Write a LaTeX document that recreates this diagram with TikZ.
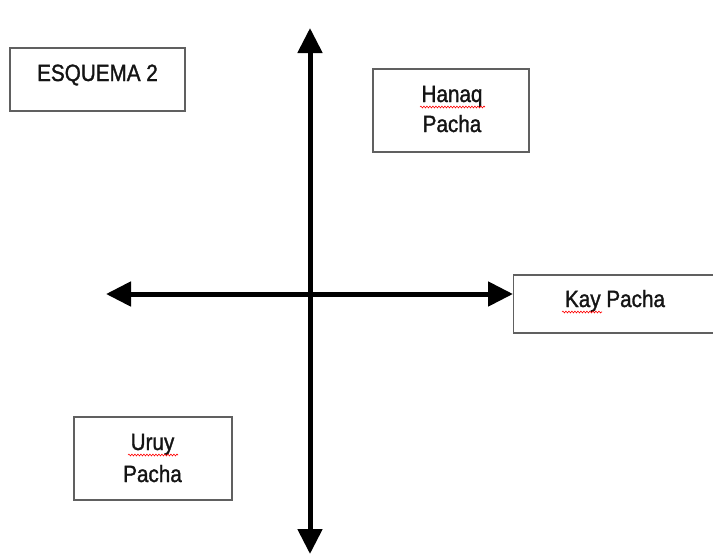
\documentclass[tikz,border=0pt]{standalone}
\usepackage{fontspec}
\setmainfont{Liberation Sans}[FakeStretch=0.88,FakeBold=1.3]
\usetikzlibrary{arrows.meta,decorations.pathmorphing}
\definecolor{boxline}{HTML}{606060}
\definecolor{txt}{HTML}{141414}
\begin{document}
\begin{tikzpicture}[x=1pt,y=-1pt,
  labelbox/.style={draw=boxline,line width=1.4pt,fill=white,rectangle,inner sep=0pt},
  lbl/.style={text=txt,font=\fontsize{23.5}{28}\selectfont,anchor=base,inner sep=0pt},
  axis/.style={line width=5pt,-{Triangle[width=24pt,length=25pt]}},
  spell/.style={red,line width=0.6pt,decorate,decoration={snake,amplitude=0.9pt,segment length=3pt}}]
\useasboundingbox (0,0) rectangle (713,555);
% boxes
\node[labelbox,minimum width=175pt,minimum height=63pt] (esq) at (97.5,79.5) {};
\node[labelbox,minimum width=156pt,minimum height=83pt] (hanaq) at (451,110.5) {};
\node[labelbox,minimum width=200pt,minimum height=58pt,anchor=west] (kay) at (513,304) {};
\node[labelbox,minimum width=158pt,minimum height=83pt] (uruy) at (153,458.5) {};
% texts
\node[lbl] (esqt) at (97.5,81) {ESQUEMA 2};
\node[lbl] (hanaqt1) at (452,102) {Hanaq};
\node[lbl] (hanaqt2) at (452,132) {Pacha};
\node[lbl] (kayt) at (615,307) {Kay Pacha};
\node[lbl] (uruyt1) at (152.5,450) {Uruy};
\node[lbl] (uruyt2) at (152.5,482) {Pacha};
% axes
\coordinate (c) at (310,294);
\coordinate (top) at (310,28);
\coordinate (bot) at (310,554);
\coordinate (lft) at (106,294);
\coordinate (rgt) at (513,294);
\draw[axis] (c) -- (top);
\draw[axis] (c) -- (bot);
\draw[axis] (c) -- (lft);
\draw[axis] (c) -- (rgt);
% spell-check underlines
\coordinate (h1) at (420,107); \coordinate (h2) at (485,107);
\coordinate (k1) at (562,312); \coordinate (k2) at (602,312);
\coordinate (u1) at (128,455); \coordinate (u2) at (178,455);
\draw[spell] (h1) -- (h2);
\draw[spell] (k1) -- (k2);
\draw[spell] (u1) -- (u2);
\end{tikzpicture}
\end{document}
